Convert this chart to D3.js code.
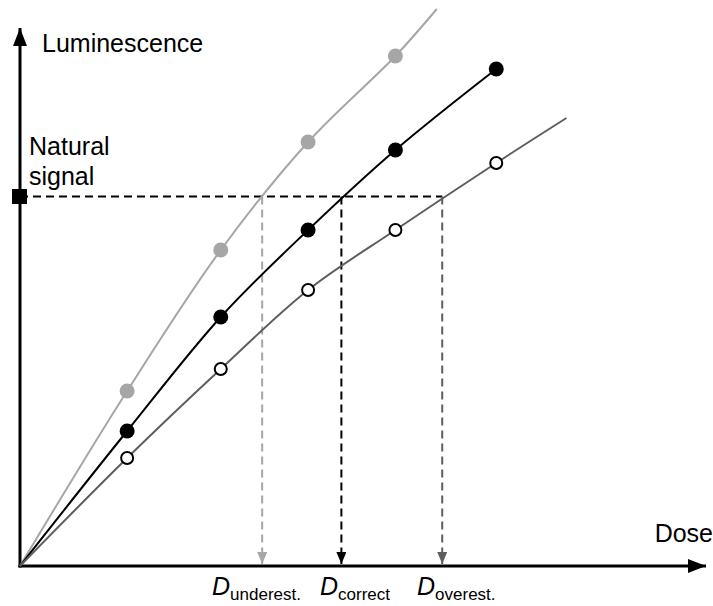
<!DOCTYPE html>
<html>
<head>
<meta charset="utf-8">
<script src="https://cdn.jsdelivr.net/npm/d3@7"></script>
<style>
  html, body { margin: 0; padding: 0; background: #fff; }
  svg { display: block; font-family: "Liberation Sans", Arial, sans-serif; }
</style>
</head>
<body>
<svg id="chart" width="713" height="606"></svg>
<script>
// Dose-response curves (arbitrary units)
const doses = [1.19, 2.23, 3.2, 4.17, 5.29];
const underestLum = [3.50, 6.32, 8.48, 10.20];
const correctLum = [2.70, 4.98, 6.72, 8.32, 9.94];
const overestLum = [2.16, 3.94, 5.52, 6.72, 8.06];
// Line extensions beyond the last measured point
const underestTail = [4.63, 11.14];
const overestTail = [6.07, 8.96];
// Natural signal level and the resulting dose estimates
const naturalSignal = 7.39;
const doseEstimates = [2.69, 3.57, 4.69];
const doseLabels = ["underest.", "correct", "overest."];
const curveColors = ["#a6a6a6", "#000000", "#5e5e5e"];

const svg = d3.select("#chart");
const x = d3.scaleLinear().domain([0, 7.62]).range([20, 706]);
const y = d3.scaleLinear().domain([0, 10.76]).range([566, 28]);

const defs = svg.append("defs");
function arrowMarker(id, color, w, h) {
  defs.append("marker")
    .attr("id", id)
    .attr("viewBox", `0 0 ${h} ${w}`)
    .attr("refX", h).attr("refY", w / 2)
    .attr("markerWidth", h).attr("markerHeight", w)
    .attr("markerUnits", "userSpaceOnUse")
    .attr("orient", "auto")
    .append("path")
    .attr("d", `M0,0L${h},${w / 2}L0,${w}Z`)
    .attr("fill", color);
}
arrowMarker("axisArrow", "#000", 14, 18);
curveColors.forEach((c, i) => arrowMarker("doseArrow" + i, c, 10, 12));

// Axes
svg.append("line")
  .attr("x1", x(0)).attr("y1", y(0) + 1.5)
  .attr("x2", x(0)).attr("y2", y.range()[1])
  .attr("stroke", "#000").attr("stroke-width", 3)
  .attr("marker-end", "url(#axisArrow)");
svg.append("line")
  .attr("x1", x(0) - 1.5).attr("y1", y(0))
  .attr("x2", x.range()[1]).attr("y2", y(0))
  .attr("stroke", "#000").attr("stroke-width", 3)
  .attr("marker-end", "url(#axisArrow)");

// Natural signal guide lines
const maxEst = d3.max(doseEstimates);
svg.append("line")
  .attr("x1", x(0)).attr("y1", y(naturalSignal))
  .attr("x2", x(maxEst)).attr("y2", y(naturalSignal))
  .attr("stroke", "#000").attr("stroke-width", 2)
  .attr("stroke-dasharray", "8,5");
doseEstimates.forEach((d, i) => {
  svg.append("line")
    .attr("x1", x(d)).attr("y1", y(naturalSignal))
    .attr("x2", x(d)).attr("y2", y(0) - 2)
    .attr("stroke", curveColors[i]).attr("stroke-width", 2)
    .attr("stroke-dasharray", "8,5")
    .attr("marker-end", `url(#doseArrow${i})`);
});

// Curves
const line = d3.line().x(p => x(p[0])).y(p => y(p[1])).curve(d3.curveCatmullRom.alpha(0.5));
const series = [
  { pts: [[0, 0]].concat(doses.slice(0, 4).map((d, i) => [d, underestLum[i]]), [underestTail]),
    marks: doses.slice(0, 4).map((d, i) => [d, underestLum[i]]), color: curveColors[0], open: false },
  { pts: [[0, 0]].concat(doses.map((d, i) => [d, correctLum[i]])),
    marks: doses.map((d, i) => [d, correctLum[i]]), color: curveColors[1], open: false },
  { pts: [[0, 0]].concat(doses.map((d, i) => [d, overestLum[i]]), [overestTail]),
    marks: doses.map((d, i) => [d, overestLum[i]]), color: curveColors[2], open: true }
];
series.forEach(s => {
  svg.append("path").datum(s.pts)
    .attr("d", line).attr("fill", "none")
    .attr("stroke", s.color).attr("stroke-width", 2);
});
series.forEach(s => {
  svg.append("g").selectAll("circle").data(s.marks).join("circle")
    .attr("cx", p => x(p[0])).attr("cy", p => y(p[1]))
    .attr("r", s.open ? 6 : 7.5)
    .attr("fill", s.open ? "#fff" : s.color)
    .attr("stroke", s.open ? "#000" : "none")
    .attr("stroke-width", 2);
});

// Natural signal marker on the luminescence axis
svg.append("rect")
  .attr("x", x(0) - 8).attr("y", y(naturalSignal) - 7.5)
  .attr("width", 15).attr("height", 15)
  .attr("fill", "#000");

// Labels
svg.append("text").attr("x", 42).attr("y", 52)
  .attr("font-size", 25).text("Luminescence");
svg.append("text").attr("x", 29).attr("y", 155)
  .attr("font-size", 25).text("Natural");
svg.append("text").attr("x", 29).attr("y", 185)
  .attr("font-size", 25).text("signal");
svg.append("text").attr("x", 713).attr("y", 542)
  .attr("font-size", 25).attr("text-anchor", "end").text("Dose");

const labelStarts = [212, 320, 417];
doseLabels.forEach((lab, i) => {
  const t = svg.append("text").attr("x", labelStarts[i]).attr("y", 595);
  t.append("tspan").attr("font-size", 25).attr("font-style", "italic").text("D");
  t.append("tspan").attr("font-size", 17).attr("dy", 5).text(lab);
});
</script>
</body>
</html>
